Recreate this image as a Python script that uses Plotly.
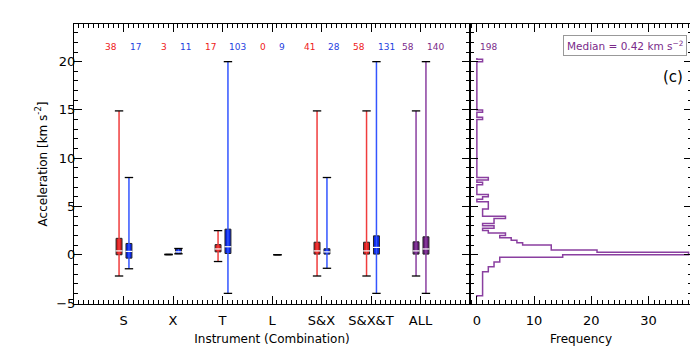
import plotly.graph_objects as go

# instrument combinations along the x axis
categories = ["S", "X", "T", "L", "S&X", "S&X&T", "ALL"]

# number of events in each group (first / second box of a pair)
count_a = [38, 3, 17, 0, 41, 58, 58]
count_b = [17, 11, 103, 9, 28, 131, 140]

# box statistics, first box of each pair (None = no box)
lo_a = [-2.2, 0.0, -0.7, None, -2.2, -2.2, -2.2]
q1_a = [0.0, 0.0, 0.3, None, 0.07, 0.07, 0.07]
med_a = [0.4, 0.0, 0.6, None, 0.4, 0.4, 0.4]
q3_a = [1.7, 0.05, 1.05, None, 1.3, 1.3, 1.34]
hi_a = [14.9, 0.05, 2.5, None, 14.9, 14.9, 14.9]

# box statistics, second box of each pair
lo_b = [-1.45, 0.1, -4.0, 0.0, -1.4, -4.0, -4.0]
q1_b = [-0.35, 0.1, 0.13, 0.0, 0.07, 0.07, 0.07]
med_b = [0.35, 0.3, 0.83, 0.0, 0.3, 0.76, 0.6]
q3_b = [1.17, 0.6, 2.65, 0.0, 0.62, 1.96, 1.86]
hi_b = [8.0, 0.65, 20.0, 0.0, 8.0, 20.0, 20.0]

# histogram of all events (bin centre in km s^-2, count)
hist_acc = [20.125, 14.875, 14.125, 7.875, 7.375, 6.125, 5.875, 5.375, 5.125, 4.875,
            4.625, 4.375, 4.125, 3.875, 3.625, 3.375, 3.125, 2.875, 2.625, 2.375,
            2.125, 1.875, 1.625, 1.375, 1.125, 0.875, 0.625, 0.375, 0.125, -0.125,
            -0.375, -0.625, -0.875, -1.125, -1.375, -1.625, -1.875, -2.125, -2.375, -2.625,
            -2.875, -3.125, -3.375, -3.625, -3.875, -4.125]
hist_n = [1, 1, 1, 2, 1, 2, 1, 2, 2, 2,
          1, 1, 1, 5, 3, 3, 1, 3, 1, 2,
          5, 4, 6, 7, 8, 13, 13, 21, 37, 15,
          4, 4, 3, 3, 2, 2, 1, 1, 1, 1,
          1, 1, 1, 1, 1, 1]
hist_width = 0.25
total_events = 198
median_acc = 0.42

RED, BLUE, PURPLE = "#f03c3c", "#3355ff", "#8a3fa0"
RED_BOX, BLUE_BOX, PURPLE_BOX = "#d91e1e", "#0a28e6", "#6a1f7e"
RED_TXT, BLUE_TXT, PURPLE_TXT = "#ee2020", "#1f3fe0", "#7a2a8a"

whisk_a = [RED] * 6 + [PURPLE]
whisk_b = [BLUE] * 6 + [PURPLE]
fill_a = [RED_BOX] * 6 + [PURPLE_BOX]
fill_b = [BLUE_BOX] * 6 + [PURPLE_BOX]
txt_a = [RED_TXT] * 6 + [PURPLE_TXT]
txt_b = [BLUE_TXT] * 6 + [PURPLE_TXT]

off_a = -0.09
off_b = 0.11
box_w = 0.12

fig = go.Figure()


def add_boxes(offset, lo, q1, med, q3, hi, wcol, fcol):
    for i in range(len(categories)):
        if lo[i] is None:
            continue
        xp = i + 1 + offset
        fig.add_trace(go.Scatter(x=[xp, xp], y=[lo[i], hi[i]], mode="lines",
                                 line=dict(color=wcol[i], width=1.5), hoverinfo="skip"))
        fig.add_trace(go.Bar(x=[xp], y=[q3[i] - q1[i]], base=[q1[i]], width=box_w,
                             marker=dict(color=fcol[i], line=dict(color="#222222", width=1))))
        if q3[i] - q1[i] > 0.2:
            fig.add_trace(go.Scatter(x=[xp], y=[med[i]], mode="markers",
                                     marker=dict(symbol="line-ew", size=5,
                                                 line=dict(color="white", width=1.2)),
                                     hoverinfo="skip"))
        fig.add_trace(go.Scatter(x=[xp, xp], y=[lo[i], hi[i]], mode="markers",
                                 marker=dict(symbol="line-ew", size=6,
                                             line=dict(color="black", width=1.3)),
                                 hoverinfo="skip"))


add_boxes(off_a, lo_a, q1_a, med_a, q3_a, hi_a, whisk_a, fill_a)
add_boxes(off_b, lo_b, q1_b, med_b, q3_b, hi_b, whisk_b, fill_b)

# step histogram on the full bin grid
lookup = {round(a, 3): n for a, n in zip(hist_acc, hist_n)}
grid_y = []
grid_n = []
c = min(hist_acc) - hist_width
while c <= max(hist_acc) + hist_width + 1e-9:
    grid_y.append(c)
    grid_n.append(lookup.get(round(c, 3), 0))
    c += hist_width

fig.add_trace(go.Scatter(x=grid_n, y=grid_y, mode="lines", line_shape="vhv",
                         line=dict(color=PURPLE, width=1.5),
                         xaxis="x2", yaxis="y2", hoverinfo="skip"))

for i, cat in enumerate(categories):
    fig.add_annotation(x=i + 1 - 0.09, y=21.5, text=str(count_a[i]), showarrow=False,
                       xanchor="right", font=dict(size=9, color=txt_a[i]))
    fig.add_annotation(x=i + 1 + 0.1, y=21.5, text=str(count_b[i]), showarrow=False,
                       xanchor="left", font=dict(size=9, color=txt_b[i]))

fig.add_annotation(x=0.2, y=21.5, xref="x2", yref="y2", text=str(total_events),
                   showarrow=False, xanchor="left", font=dict(size=9, color=PURPLE_TXT))
fig.add_annotation(x=0.977, y=0.961, xref="x2 domain", yref="y domain",
                   text="Median = %.2f km s<sup>\u22122</sup>" % median_acc,
                   showarrow=False, xanchor="right", yanchor="top",
                   bordercolor="#999999", borderwidth=1, borderpad=3,
                   font=dict(size=10.5, color=PURPLE_TXT))
fig.add_annotation(x=0.914, y=0.81, xref="x2 domain", yref="y domain", text="(c)",
                   showarrow=False, xanchor="center", yanchor="middle",
                   font=dict(size=15, color="black"))

axis_style = dict(showline=True, linecolor="black", linewidth=1, mirror="allticks",
                  ticks="inside", ticklen=8, tickcolor="black", showgrid=False,
                  zeroline=False, automargin=False)

split = (470 - 74) / 618

# the page adds an 8px body margin, so the figure is 8px smaller on each axis
fig.update_layout(
    width=690, height=345,
    margin=dict(l=66, r=6, t=16, b=49),
    plot_bgcolor="white", paper_bgcolor="white",
    showlegend=False, barmode="overlay",
    font=dict(family="DejaVu Sans", size=13, color="black"),
    xaxis=dict(domain=[0, split], range=[0, 8],
               tickvals=list(range(1, len(categories) + 1)), ticktext=categories,
               ticklabelstandoff=4,
               minor=dict(dtick=0.1, tick0=0, ticks="inside", ticklen=4, tickcolor="black"),
               title=dict(text="Instrument (Combination)", font=dict(size=12), standoff=8),
               **axis_style),
    yaxis=dict(range=[-5.1, 23.9], dtick=5, ticklabelstandoff=-5,
               minor=dict(dtick=1, ticks="inside", ticklen=4, tickcolor="black"),
               title=dict(text="Acceleration [km s<sup>-2</sup>]", font=dict(size=12),
                          standoff=6),
               **axis_style),
    xaxis2=dict(domain=[split, 1], anchor="y2", range=[-1.2, 37.6], dtick=10,
                ticklabelstandoff=4,
                minor=dict(dtick=1, ticks="inside", ticklen=4, tickcolor="black"),
                title=dict(text="Frequency", font=dict(size=12), standoff=8),
                **axis_style),
    yaxis2=dict(anchor="x2", matches="y", showticklabels=False, dtick=5,
                minor=dict(dtick=1, ticks="inside", ticklen=4, tickcolor="black"),
                **axis_style),
)

fig.write_html("out.html")
